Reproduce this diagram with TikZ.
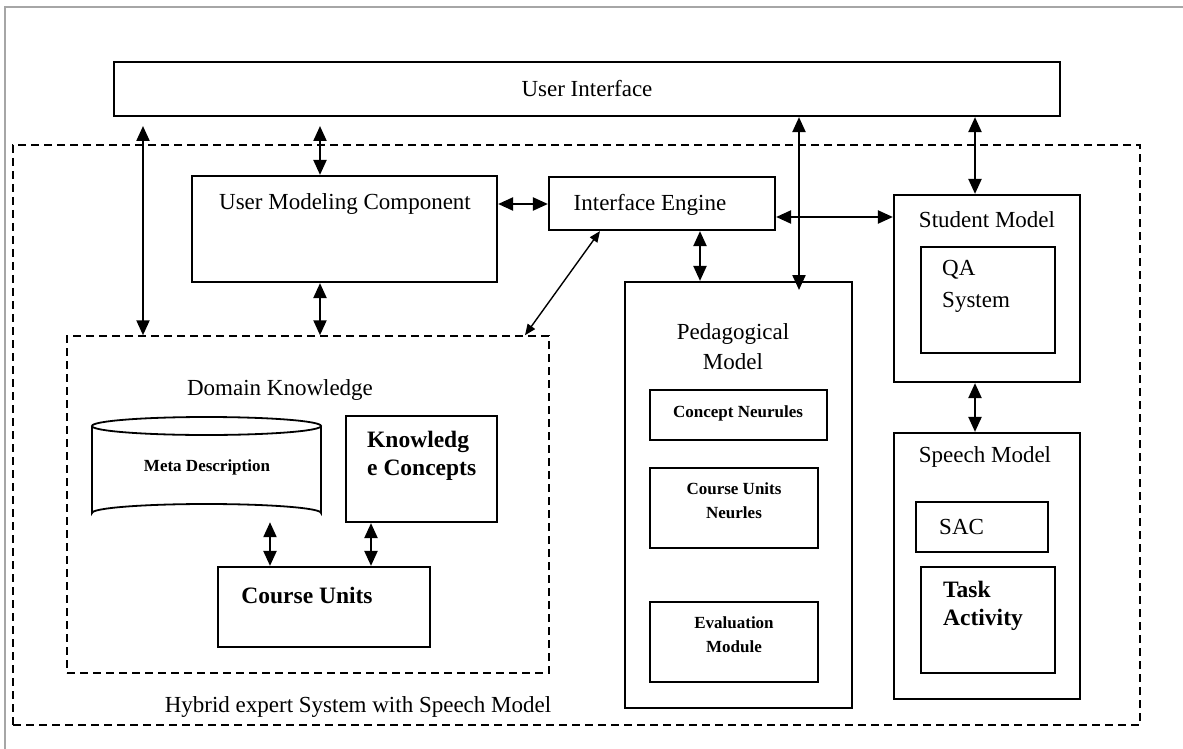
\documentclass[tikz,border=0pt]{standalone}
\usepackage{fontspec}
\setmainfont{Liberation Serif}
\usetikzlibrary{arrows.meta,calc}
\begin{document}
\begin{tikzpicture}[x=1pt,y=-1pt,
 box/.style={draw, line width=2.2pt, inner sep=0pt},
 dbox/.style={draw, line width=1.5pt, dash pattern=on 8pt off 5pt, inner sep=0pt},
 arr/.style={line width=2.2pt, {Triangle[length=15pt,width=13pt]}-{Triangle[length=15pt,width=13pt]}},
 thinarr/.style={line width=1.4pt, {Triangle[length=11pt,width=9pt]}-{Triangle[length=11pt,width=9pt]}},
 txt/.style={font=\fontsize{23}{30}\selectfont, inner sep=0pt},
 btxt/.style={font=\fontsize{23.5}{28}\selectfont\bfseries, inner sep=0pt},
 stxt/.style={font=\fontsize{17}{24}\selectfont\bfseries, inner sep=0pt},
]
\useasboundingbox (0,0) rectangle (1183,749);
% outer frame
\draw[black!35, line width=1.5pt] (1183,7) -- (5,7) -- (5,749);
% dashed containers
\node[dbox, minimum width=1127pt, minimum height=580pt] (outer) at (576.5,435) {};
\node[dbox, minimum width=482pt, minimum height=337pt] (dk) at (308,504.5) {};
% boxes
\node[box, txt, minimum width=946pt, minimum height=54pt] (ui) at (587,89) {User Interface};
\node[box, minimum width=305pt, minimum height=106pt] (umc) at (344.5,229) {};
\node[txt] (umcl) at (345,204) {User Modeling Component};
\node[box, minimum width=226pt, minimum height=53pt] (ie) at (662,203.5) {};
\node[txt] (iel) at (650,205) {Interface Engine};
\node[txt] (dkl) at (280,390) {Domain Knowledge};
% cylinder
\node[inner sep=0pt, minimum width=229pt, minimum height=105pt] (meta) at (206.5,469.5) {};
\draw[line width=1.8pt] (92,426) -- (92,513) arc[start angle=180, end angle=360, x radius=114.5, y radius=9] -- (321,426);
\draw[line width=1.8pt] (206.5,426) ellipse[x radius=114.5, y radius=9];
\node[stxt] (metal) at (207,467) {Meta Description};
\node[box, minimum width=151pt, minimum height=106pt] (ck) at (421.5,469) {};
\node[btxt, align=left, anchor=west] (ckl) at (367,456) {Knowledg\\e Concepts};
\node[box, minimum width=212pt, minimum height=80pt] (cu) at (324,607) {};
\node[btxt] (cul) at (307,595) {Course Units};
% pedagogical
\node[box, minimum width=227pt, minimum height=426pt] (ped) at (738.5,495) {};
\node[txt, align=center] (pedl) at (733,347) {Pedagogical\\Model};
\node[box, minimum width=177pt, minimum height=50pt] (cn) at (738.5,415) {};
\node[stxt] (cnl) at (738,413) {Concept Neurules};
\node[box, minimum width=168pt, minimum height=80pt] (cun) at (734,508) {};
\node[stxt, align=center] (cunl) at (734,501) {Course Units\\Neurles};
\node[box, minimum width=168pt, minimum height=80pt] (em) at (734,642) {};
\node[stxt, align=center] (eml) at (734,635) {Evaluation\\Module};
% student model
\node[box, minimum width=186pt, minimum height=187pt] (sm) at (987,288.5) {};
\node[txt] (sml) at (987,220) {Student Model};
\node[box, minimum width=134pt, minimum height=106pt] (qa) at (988,300) {};
\node[txt, align=left, anchor=west, font=\fontsize{23}{32}\selectfont] (qal) at (942,286) {QA\\System};
% speech model
\node[box, minimum width=186pt, minimum height=266pt] (sp) at (987,566) {};
\node[txt] (spl) at (985,457) {Speech Model};
\node[box, minimum width=132pt, minimum height=50pt] (sac) at (982,527) {};
\node[txt, anchor=west] (sacl) at (939,527) {SAC};
\node[box, minimum width=134pt, minimum height=106pt] (ta) at (988,620) {};
\node[btxt, align=left, anchor=west] (tal) at (943,606) {Task\\Activity};
\node[txt] (hyb) at (358,707) {Hybrid expert System with Speech Model};
% connectors
\coordinate (c1) at (143,126);
\draw[arr] (c1) -- (c1 |- dk.north);
\coordinate (c2) at (320,126);
\draw[arr] (c2) -- (c2 |- umc.north);
\draw[arr] (umc.south -| c2) -- (dk.north -| c2);
\draw[arr] (umc.east |- umcl) -- (ie.west |- umcl);
\coordinate (c3) at (525,0);
\coordinate (c4) at (600,0);
\draw[thinarr] (dk.north -| c3) -- (ie.south -| c4);
\coordinate (c5) at (799,290);
\draw[arr] (ui.south -| c5) -- (c5);
\coordinate (c6) at (0,217);
\draw[arr] (ie.east |- c6) -- (sm.west |- c6);
\coordinate (c7) at (700,0);
\draw[arr] (ie.south -| c7) -- (ped.north -| c7);
\coordinate (c8) at (975,0);
\draw[arr] (ui.south -| c8) -- (sm.north -| c8);
\draw[arr] (sm.south -| c8) -- (sp.north -| c8);
\coordinate (c9) at (270,0);
\draw[arr] (meta.south -| c9) -- (cu.north -| c9);
\coordinate (c10) at (371,0);
\draw[arr] (ck.south -| c10) -- (cu.north -| c10);
\end{tikzpicture}
\end{document}
